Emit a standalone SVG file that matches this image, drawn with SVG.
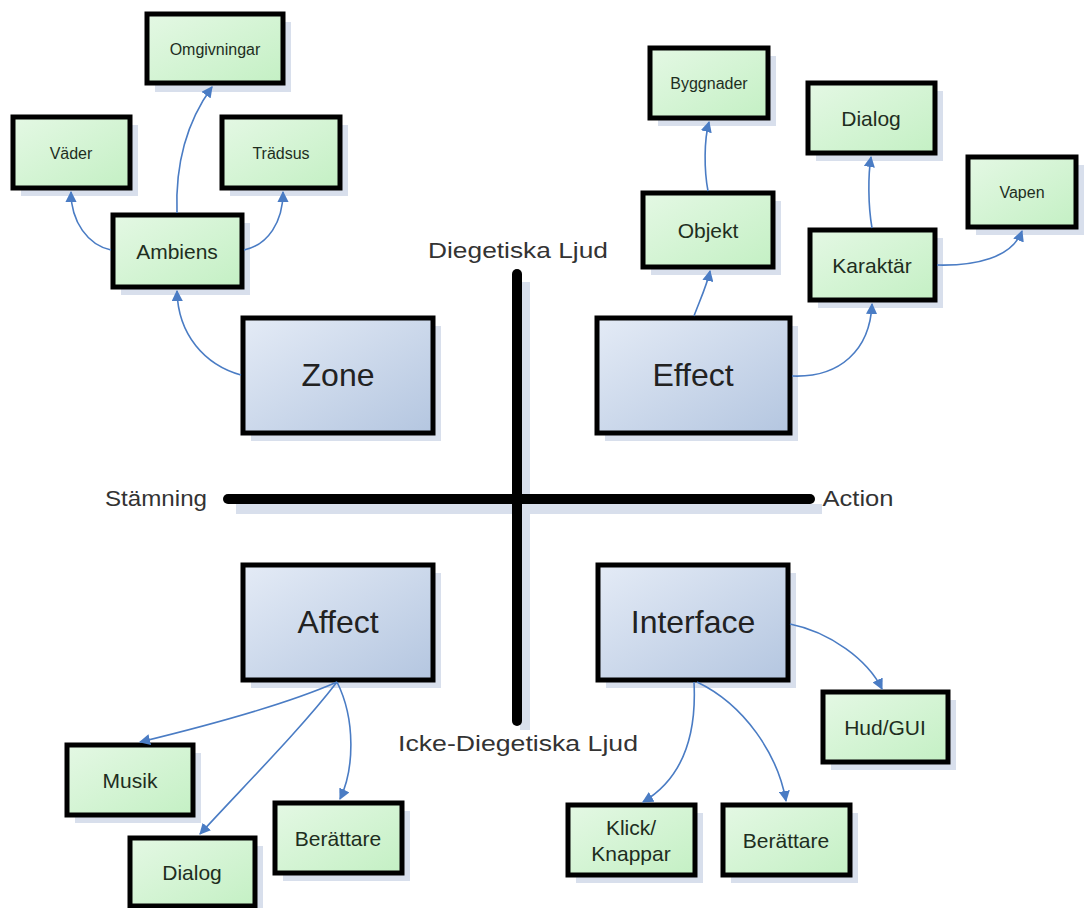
<svg xmlns="http://www.w3.org/2000/svg" width="1088" height="908" viewBox="0 0 1088 908">
<defs>
<linearGradient id="gG" x1="0" y1="0" x2="1" y2="1"><stop offset="0" stop-color="#e4f8e4"/><stop offset="1" stop-color="#c4f0c4"/></linearGradient>
<linearGradient id="gB" x1="0" y1="0" x2="1" y2="1"><stop offset="0" stop-color="#e4ebf6"/><stop offset="1" stop-color="#b4c6e0"/></linearGradient>
<marker id="arr" viewBox="0 0 10 10" refX="9" refY="5" markerWidth="7" markerHeight="7" orient="auto"><path d="M0,0 L10,5 L0,10 z" fill="#4a7cc4"/></marker>
<style>
.sh{fill:#d8dfec}
.g{fill:url(#gG);stroke:#000;stroke-width:5}
.b{fill:url(#gB);stroke:#000;stroke-width:5}
text{font-family:"Liberation Sans",Arial,sans-serif;fill:#222;text-anchor:middle;dominant-baseline:central}
.g~text{fill:#1e2e1e}
.t1{font-size:32px}
.t2{font-size:21px}
.t3{font-size:16px}
.ax{font-size:22px;fill:#333}
.c{fill:none;stroke:#4a7cc4;stroke-width:1.6;marker-end:url(#arr)}
.axis{stroke:#000;stroke-width:10;stroke-linecap:round}
.axs{stroke:#d8dfec;stroke-width:10}
</style>
</defs>
<rect width="1088" height="908" fill="#fff"/>
<g id="axes">
<line class="axs" x1="525" y1="282" x2="525" y2="730"/>
<line class="axs" x1="236" y1="509" x2="822" y2="509"/>
<line class="axis" x1="517" y1="274" x2="517" y2="721"/>
<line class="axis" x1="228" y1="499" x2="810" y2="499"/>
<text class="ax" x="518" y="250" textLength="180" lengthAdjust="spacingAndGlyphs">Diegetiska Ljud</text>
<text class="ax" x="518" y="743" textLength="240" lengthAdjust="spacingAndGlyphs">Icke-Diegetiska Ljud</text>
<text class="ax" x="156" y="498" textLength="102" lengthAdjust="spacingAndGlyphs">Stämning</text>
<text class="ax" x="858" y="498" textLength="71" lengthAdjust="spacingAndGlyphs">Action</text>
</g>
<g id="n-omgivningar"><rect class="sh" x="155" y="22" width="136" height="70"/><rect class="g" x="147" y="14" width="136" height="69"/><text class="t3" x="215" y="49">Omgivningar</text></g>
<g id="n-vader"><rect class="sh" x="21" y="125" width="117" height="71"/><rect class="g" x="13" y="117" width="117" height="71"/><text class="t3" x="71" y="153">Väder</text></g>
<g id="n-tradsus"><rect class="sh" x="230" y="125" width="118" height="71"/><rect class="g" x="222" y="117" width="118" height="71"/><text class="t3" x="281" y="153">Trädsus</text></g>
<g id="n-ambiens"><rect class="sh" x="121" y="223" width="129" height="72"/><rect class="g" x="113" y="215" width="129" height="72"/><text class="t2" x="177" y="251">Ambiens</text></g>
<g id="n-zone"><rect class="sh" x="251" y="326" width="190" height="115"/><rect class="b" x="243" y="318" width="190" height="115"/><text class="t1" x="338" y="375">Zone</text></g>
<g id="n-effect"><rect class="sh" x="605" y="326" width="193" height="115"/><rect class="b" x="597" y="318" width="193" height="115"/><text class="t1" x="693" y="375">Effect</text></g>
<g id="n-affect"><rect class="sh" x="251" y="573" width="190" height="115"/><rect class="b" x="243" y="565" width="190" height="115"/><text class="t1" x="338" y="622">Affect</text></g>
<g id="n-interface"><rect class="sh" x="606" y="573" width="190" height="115"/><rect class="b" x="598" y="565" width="190" height="115"/><text class="t1" x="693" y="622">Interface</text></g>
<g id="n-byggnader"><rect class="sh" x="658" y="56" width="118" height="70"/><rect class="g" x="650" y="48" width="118" height="70"/><text class="t3" x="709" y="83">Byggnader</text></g>
<g id="n-objekt"><rect class="sh" x="651" y="201" width="130" height="74"/><rect class="g" x="643" y="193" width="130" height="74"/><text class="t2" x="708" y="230">Objekt</text></g>
<g id="n-dialog1"><rect class="sh" x="816" y="91" width="127" height="70"/><rect class="g" x="808" y="83" width="127" height="70"/><text class="t2" x="871" y="118">Dialog</text></g>
<g id="n-karaktar"><rect class="sh" x="818" y="238" width="125" height="70"/><rect class="g" x="810" y="230" width="125" height="70"/><text class="t2" x="872" y="265">Karaktär</text></g>
<g id="n-vapen"><rect class="sh" x="976" y="165" width="108" height="70"/><rect class="g" x="968" y="157" width="108" height="70"/><text class="t3" x="1022" y="192">Vapen</text></g>
<g id="n-hudgui"><rect class="sh" x="831" y="700" width="125" height="70"/><rect class="g" x="823" y="692" width="125" height="70"/><text class="t2" x="885" y="727">Hud/GUI</text></g>
<g id="n-klick"><rect class="sh" x="576" y="813" width="127" height="70"/><rect class="g" x="568" y="805" width="127" height="70"/><text class="t2" x="631" y="827">Klick/</text><text class="t2" x="631" y="853">Knappar</text></g>
<g id="n-berattare2"><rect class="sh" x="731" y="813" width="127" height="70"/><rect class="g" x="723" y="805" width="127" height="70"/><text class="t2" x="786" y="840">Berättare</text></g>
<g id="n-musik"><rect class="sh" x="75" y="753" width="126" height="70"/><rect class="g" x="67" y="745" width="126" height="70"/><text class="t2" x="130" y="780">Musik</text></g>
<g id="n-dialog2"><rect class="sh" x="138" y="846" width="125" height="70"/><rect class="g" x="130" y="838" width="125" height="68"/><text class="t2" x="192" y="872">Dialog</text></g>
<g id="n-berattare1"><rect class="sh" x="283" y="811" width="127" height="70"/><rect class="g" x="275" y="803" width="127" height="70"/><text class="t2" x="338" y="838">Berättare</text></g>
<g id="connectors">
<path class="c" d="M241,375 C205,365 178,335 177,291"/>
<path class="c" d="M111,250 C88,245 71,222 71,192"/>
<path class="c" d="M244,250 C268,245 283,222 283,192"/>
<path class="c" d="M177,213 C175,160 188,120 212,87"/>
<path class="c" d="M694,316 C700,300 707,285 710,271"/>
<path class="c" d="M708,191 C704,170 704,140 709,122"/>
<path class="c" d="M792,376 C840,378 870,350 872,304"/>
<path class="c" d="M872,228 C868,205 868,175 871,157"/>
<path class="c" d="M937,265 C975,266 1012,258 1022,231"/>
<path class="c" d="M790,624 C830,632 868,660 882,689"/>
<path class="c" d="M694,682 C697,740 680,780 643,802"/>
<path class="c" d="M697,682 C745,705 778,755 786,801"/>
<path class="c" d="M337,682 C285,705 210,725 140,742"/>
<path class="c" d="M337,682 C300,730 245,785 200,834"/>
<path class="c" d="M337,682 C356,720 354,770 340,799"/>
</g>
</svg>
